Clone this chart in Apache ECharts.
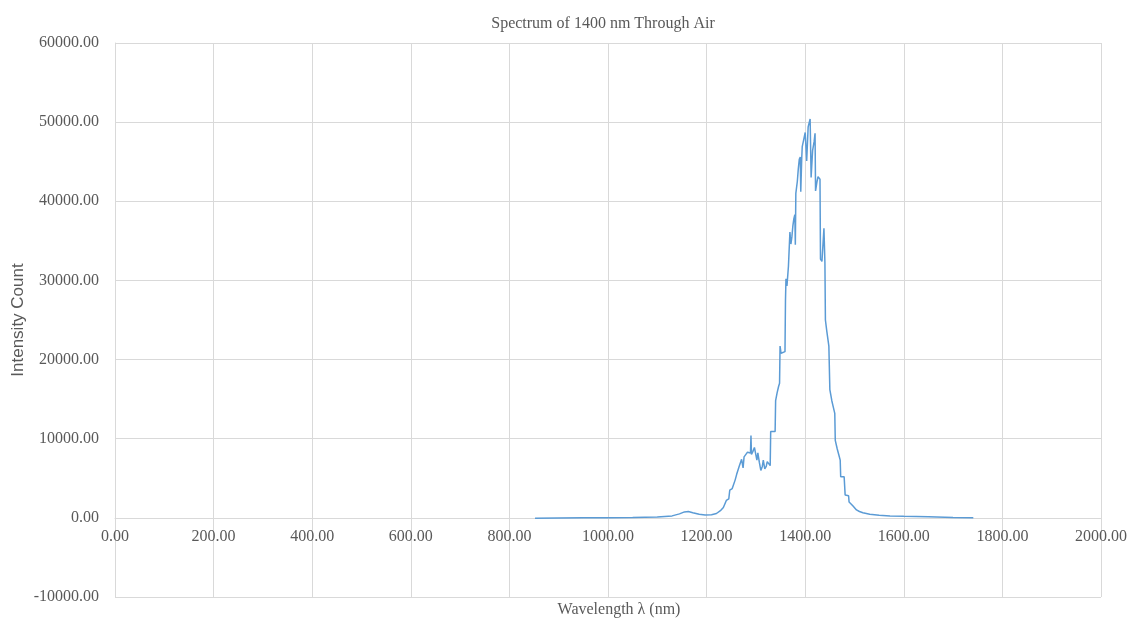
<!DOCTYPE html>
<html>
<head>
<meta charset="utf-8">
<script src="https://cdn.jsdelivr.net/npm/echarts@6/dist/echarts.min.js"></script>
<style>
  html, body { margin: 0; padding: 0; background: #fff; }
  #chart { width: 1132px; height: 622px; }
</style>
</head>
<body>
<div id="chart"></div>
<script>
// Measured spectrum: wavelength (nm) and detector intensity count
const wavelengths = [
  852, 900, 950, 1000, 1050, 1100, 1130, 1145, 1155, 1163, 1172, 1185, 1197, 1210, 1220, 1228,
  1234, 1238, 1240, 1245, 1247, 1252, 1254, 1258, 1261, 1264, 1266, 1270, 1271, 1274, 1276, 1280,
  1283, 1286, 1289, 1290, 1291, 1294, 1297, 1299, 1302, 1304, 1307, 1310, 1313, 1315, 1318, 1321,
  1323, 1326, 1329, 1330, 1334, 1339, 1340, 1343, 1346, 1348, 1349, 1351, 1355, 1359, 1360, 1361,
  1363, 1366, 1369, 1371, 1373, 1375, 1377, 1379, 1380, 1381, 1384, 1386, 1388, 1390, 1391, 1393,
  1394, 1397, 1400, 1403, 1406, 1410, 1412, 1415, 1418, 1420, 1421, 1424, 1426, 1430, 1431, 1434,
  1436, 1438, 1440, 1441, 1444, 1448, 1450, 1454, 1457, 1460, 1461, 1465, 1468, 1471, 1472, 1476,
  1479, 1481, 1485, 1488, 1489, 1493, 1497, 1504, 1510, 1517, 1531, 1550, 1572, 1600, 1650, 1700,
  1741
];
const intensities = [
  -50, -30, 0, 20, 50, 120, 250, 500, 750, 800, 650, 450, 350, 400, 550, 900,
  1300, 1400, 2200, 2400, 3500, 3700, 3900, 4800, 5500, 5700, 6500, 6700, 7400, 6300, 7700, 7900,
  8300, 8500, 8200, 10400, 8000, 8400, 8900, 8700, 7300, 8200, 7000, 6000, 6500, 7300, 6200, 6500,
  7100, 6900, 6600, 10900, 10800, 10900, 14800, 15800, 16600, 17000, 21700, 20800, 20900, 21000, 27500, 30200,
  29300, 31800, 36100, 34600, 35500, 36900, 37800, 38300, 34500, 41000, 42500, 44100, 45300, 45600, 41200, 45500,
  46900, 47800, 48700, 45100, 49400, 50400, 43000, 46400, 47500, 48600, 41300, 42500, 43100, 42800, 32700, 32400,
  32300, 36600, 32200, 25000, 23500, 21700, 16200, 14800, 14000, 13200, 9800, 8700, 8000, 7300, 5200, 5200,
  5200, 2900, 2900, 2800, 2000, 1800, 1500, 1000, 800, 650, 450, 330, 250, 200, 130, 60,
  20
];

const titleText = 'Spectrum of 1400 nm Through Air';
const xAxisTitle = 'Wavelength \u03bb (nm)';
const yAxisTitle = 'Intensity Count';

const textGray = '#595959';
const gridGray = '#d9d9d9';
const serif = '"Liberation Serif", "Times New Roman", serif';

const yMin = -10000;
const yMax = 60000;
const gridTop = 43;
const gridBottom = 25;
const chartHeight = 622;

const points = wavelengths.map((w, i) => [w, intensities[i]]);

// The wavelength axis sits on the zero-intensity line; shift it up from the
// bottom edge of the plot by the height that the negative range occupies.
const plotHeight = chartHeight - gridTop - gridBottom;
const zeroShift = plotHeight * (0 - yMin) / (yMax - yMin);

const chart = echarts.init(document.getElementById('chart'), null, { renderer: 'canvas' });
chart.setOption({
  animation: false,
  backgroundColor: '#ffffff',
  title: {
    text: titleText,
    left: 598,
    top: 11,
    textAlign: 'center',
    textStyle: { fontFamily: serif, fontSize: 16, fontWeight: 'normal', color: textGray }
  },
  grid: { left: 115, right: 31, top: gridTop, bottom: gridBottom, containLabel: false, outerBoundsMode: 'none' },
  xAxis: {
    type: 'value',
    min: 0,
    max: 2000,
    interval: 200,
    offset: -zeroShift,
    name: xAxisTitle,
    nameLocation: 'middle',
    nameGap: 84,
    nameMoveOverlap: false,
    nameTextStyle: { fontFamily: serif, fontSize: 16, color: textGray, padding: [0, 0, 0, 22] },
    axisLine: { show: true, onZero: false, lineStyle: { color: gridGray, width: 1 } },
    axisTick: { show: false },
    axisLabel: {
      margin: 11,
      fontFamily: serif,
      fontSize: 16,
      color: textGray,
      formatter: v => v.toFixed(2)
    },
    splitLine: { show: true, lineStyle: { color: gridGray, width: 1 } }
  },
  yAxis: {
    type: 'value',
    min: yMin,
    max: yMax,
    interval: 10000,
    name: yAxisTitle,
    nameLocation: 'middle',
    nameGap: 88,
    nameMoveOverlap: false,
    nameTextStyle: { fontFamily: '"Liberation Sans", Arial, sans-serif', fontSize: 17, color: textGray },
    axisLine: { show: true, onZero: false, lineStyle: { color: gridGray, width: 1 } },
    axisTick: { show: false },
    axisLabel: {
      margin: 16,
      fontFamily: serif,
      fontSize: 16,
      color: textGray,
      formatter: v => v.toFixed(2)
    },
    splitLine: { show: true, lineStyle: { color: gridGray, width: 1 } }
  },
  series: [{
    type: 'line',
    data: points,
    showSymbol: false,
    symbol: 'none',
    lineStyle: { color: '#5b9bd5', width: 1.5 },
    itemStyle: { color: '#5b9bd5' }
  }]
});
</script>
</body>
</html>
